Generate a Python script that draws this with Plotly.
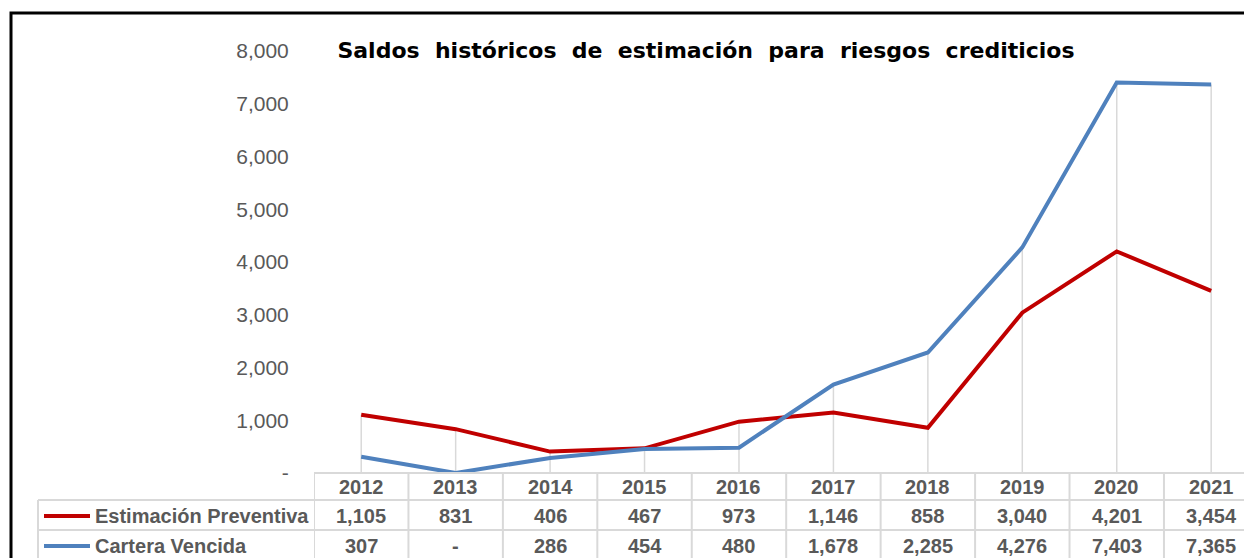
import plotly.graph_objects as go

# datos
anios = [2012, 2013, 2014, 2015, 2016, 2017, 2018, 2019, 2020, 2021]
estimacion_preventiva = [1105, 831, 406, 467, 973, 1146, 858, 3040, 4201, 3454]
cartera_vencida = [307, 0, 286, 454, 480, 1678, 2285, 4276, 7403, 7365]
y_ticks = [0, 1000, 2000, 3000, 4000, 5000, 6000, 7000, 8000]

series = [
    ("Estimación Preventiva", estimacion_preventiva, "#C00000"),
    ("Cartera Vencida", cartera_vencida, "#4F81BD"),
]

W, H = 1244, 558
ML, MR, MT, MB = 314, 0, 51, 558 - 473
PW, PH = W - ML - MR, H - MT - MB
GRIS = "#D9D9D9"
TXT = "#595959"


def px_x(p):
    return (p - ML) / PW


def px_y(p):
    return (H - MB - p) / PH


def fmt(v):
    return "-" if v == 0 else f"{v:,}"


fig = go.Figure()

for nombre, vals, color in series:
    fig.add_trace(go.Scatter(x=anios, y=vals, mode="lines", name=nombre,
                             line=dict(color=color, width=4),
                             cliponaxis=False, showlegend=False))

shapes = []
# lineas de caida
for a, v1, v2 in zip(anios, estimacion_preventiva, cartera_vencida):
    shapes.append(dict(type="line", xref="x", yref="y", x0=a, x1=a, y0=0,
                       y1=max(v1, v2), line=dict(color=GRIS, width=1.5),
                       layer="below"))

# tabla de datos
x_der = px_x(W + 30)
shapes.append(dict(type="line", xref="paper", yref="paper", x0=0, x1=x_der,
                   y0=0, y1=0, line=dict(color=GRIS, width=2)))
for fila in (500, 530):
    shapes.append(dict(type="line", xref="paper", yref="paper", x0=px_x(38),
                       x1=x_der, y0=px_y(fila), y1=px_y(fila),
                       line=dict(color=GRIS, width=2)))
shapes.append(dict(type="line", xref="paper", yref="paper", x0=px_x(38),
                   x1=px_x(38), y0=px_y(500), y1=px_y(H + 20),
                   line=dict(color=GRIS, width=2)))
for a in [anios[0] - 0.5] + [a + 0.5 for a in anios]:
    shapes.append(dict(type="line", xref="x", yref="paper", x0=a, x1=a,
                       y0=0, y1=px_y(H + 20), line=dict(color=GRIS, width=2)))

annotations = []
for a in anios:
    annotations.append(dict(x=a, y=px_y(487), xref="x", yref="paper",
                            text=str(a), showarrow=False, yanchor="middle"))
for (nombre, vals, color), fila in zip(series, (516, 546)):
    shapes.append(dict(type="line", xref="paper", yref="paper",
                       x0=px_x(44), x1=px_x(90), y0=px_y(fila), y1=px_y(fila),
                       line=dict(color=color, width=4)))
    annotations.append(dict(x=px_x(93), y=px_y(fila), xref="paper",
                            yref="paper", text=nombre, showarrow=False,
                            xanchor="left", yanchor="middle"))
    for a, v in zip(anios, vals):
        annotations.append(dict(x=a, y=px_y(fila), xref="x", yref="paper",
                                text=fmt(v), showarrow=False,
                                yanchor="middle"))

# marco
shapes.append(dict(type="rect", xref="paper", yref="paper", x0=px_x(11),
                   x1=px_x(W + 30), y0=px_y(13), y1=px_y(H + 30),
                   line=dict(color="black", width=3)))

fig.update_layout(
    width=W, height=H,
    margin=dict(l=ML, r=MR, t=MT, b=MB),
    plot_bgcolor="white", paper_bgcolor="white",
    title=dict(text="Saldos  históricos  de  estimación  para  riesgos  crediticios",
               x=706 / W, xanchor="center", y=1 - 50 / H, yanchor="middle",
               font=dict(family="DejaVu Sans", size=22, color="black",
                         weight="bold")),
    xaxis=dict(range=[2011.5, 2011.5 + PW / 94.44], showgrid=False,
               zeroline=False, showticklabels=False, showline=False),
    yaxis=dict(range=[0, 8000], tickvals=y_ticks,
               ticktext=[fmt(v) for v in y_ticks], showgrid=False,
               zeroline=False, showline=False, ticks="outside", ticklen=20,
               tickcolor="rgba(0,0,0,0)",
               tickfont=dict(family="Arial", size=21, color=TXT,
                             weight="normal")),
    font=dict(family="Arial", size=20, color=TXT, weight="bold"),
    shapes=shapes, annotations=annotations,
)

fig.write_html("out.html", config={"displayModeBar": False},
               post_script="document.body.style.margin='0';"
                           "document.body.style.overflow='hidden';")
